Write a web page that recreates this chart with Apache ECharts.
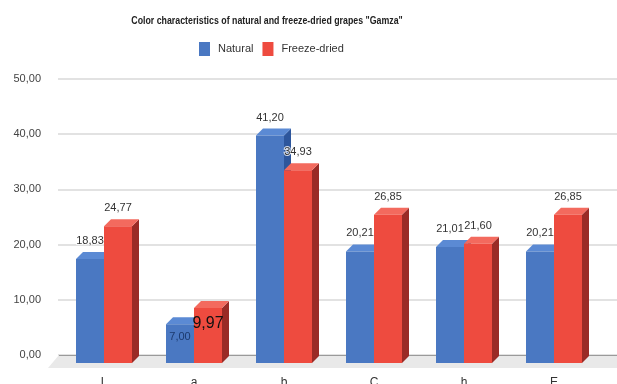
<!DOCTYPE html>
<html>
<head>
<meta charset="utf-8">
<script src="https://cdn.jsdelivr.net/npm/echarts@6/dist/echarts.min.js"></script>
<style>
  html, body { margin: 0; padding: 0; background: #fff; }
  #chart { width: 617px; height: 384px; }
</style>
</head>
<body>
<div id="chart"></div>
<script>
// Colour parameters of "Gamza" grapes
const categories = ['L', 'a', 'b', 'C', 'h', 'E'];
const naturalValues = [18.83, 7.00, 41.20, 20.21, 21.01, 20.21];
const freezeDriedValues = [24.77, 9.97, 34.93, 26.85, 21.60, 26.85];
const yTicks = [0, 10, 20, 30, 40, 50];
const chartTitle = 'Color characteristics of natural and freeze-dried grapes "Gamza"';

const FONT = "'Liberation Sans', Arial, sans-serif";

// 3D look: depth of each bar (right / up)
const DX = 7, DY = 7, BAR_W = 28;

const palettes = {
  natural: { front: '#4a78c2', top: '#5b8ad4', side: '#2d569c', insideText: '#1c3a6e', insideSize: 11, insideOffset: 13 },
  freeze:  { front: '#ee4b3f', top: '#f36a5e', side: '#9a2b26', insideText: '#111111', insideSize: 16, insideOffset: 16 }
};

const fmt = v => v.toFixed(2).replace('.', ',');

function makeBarRenderer(side, pal) {
  return function (params, api) {
    const idx = api.value(0);
    const val = api.value(1);
    const top = api.coord([idx, val]);
    const base = api.coord([idx, 0]);
    const x0 = side === 'left' ? top[0] - BAR_W : top[0];
    const ty = top[1], by = base[1];
    const inside = val < 10;
    const children = [
      { type: 'polygon', shape: { points: [[x0 + BAR_W, ty], [x0 + BAR_W + DX, ty - DY], [x0 + BAR_W + DX, by - DY], [x0 + BAR_W, by]] },
        style: { fill: pal.side } },
      { type: 'polygon', shape: { points: [[x0, ty], [x0 + BAR_W, ty], [x0 + BAR_W + DX, ty - DY], [x0 + DX, ty - DY]] },
        style: { fill: pal.top } },
      { type: 'rect', shape: { x: x0, y: ty, width: BAR_W, height: by - ty },
        style: { fill: pal.front } },
      { type: 'text', z2: 10,
        style: inside ? {
          x: x0 + BAR_W / 2, y: ty + pal.insideOffset, text: fmt(val), align: 'center', verticalAlign: 'middle',
          fill: pal.insideText, font: pal.insideSize + 'px ' + FONT
        } : {
          x: x0 + BAR_W / 2, y: ty - 18, text: fmt(val), align: 'center', verticalAlign: 'middle',
          fill: '#333', font: '11px ' + FONT, stroke: 'rgba(255,255,255,0.8)', lineWidth: 2
        } }
    ];
    return { type: 'group', children };
  };
}

// floor plane under the bars and the zero line of the back wall
function renderFloor(params, api) {
  const cs = params.coordSys;
  const zero = api.coord([0, 0]);
  const front = zero[1] + 5;
  const back = zero[1] - 8;
  const left = cs.x - 11, right = cs.x + cs.width + 18;
  return {
    type: 'group',
    children: [
      { type: 'polygon', shape: { points: [[left + 11, back], [right + 11, back], [right, front], [left, front]] },
        style: { fill: '#e9e9e9' } },
      { type: 'line', shape: { x1: left + 11, y1: back + 0.5, x2: right + 11, y2: back + 0.5 },
        style: { stroke: '#9a9a9a', lineWidth: 1.2 } }
    ]
  };
}

const chart = echarts.init(document.getElementById('chart'), null, { renderer: 'canvas' });

chart.setOption({
  animation: false,
  backgroundColor: '#fff',
  graphic: [
    { type: 'text', x: 267, y: 21, scaleX: 0.8, z: 10,
      style: { text: chartTitle, align: 'center', verticalAlign: 'middle',
        font: 'bold 11px ' + FONT, fill: '#222' } }
  ],
  legend: {
    left: 199, top: 42, padding: 0,
    itemWidth: 11, itemHeight: 14, itemGap: 9, icon: 'rect',
    textStyle: { fontFamily: FONT, fontSize: 11, color: '#333', padding: [0, 0, 0, 3] },
    data: [
      { name: 'Natural', itemStyle: { color: palettes.natural.front } },
      { name: 'Freeze-dried', itemStyle: { color: palettes.freeze.front } }
    ]
  },
  grid: [
    // front plane of the bars
    { left: 59, right: 18, top: 87, bottom: 21, outerBoundsMode: 'none', containLabel: false },
    // back wall carrying the gridlines
    { left: 58, right: 0, top: 79, bottom: 29, outerBoundsMode: 'none', containLabel: false }
  ],
  xAxis: [
    { type: 'category', gridIndex: 0, data: categories,
      axisLine: { show: false }, axisTick: { show: false },
      axisLabel: { margin: 14, fontFamily: FONT, fontSize: 12, color: '#333' } },
    { type: 'category', gridIndex: 1, data: categories, show: false }
  ],
  yAxis: [
    { type: 'value', gridIndex: 0, min: 0, max: 50, interval: 10, show: false },
    { type: 'value', gridIndex: 1, min: yTicks[0], max: yTicks[yTicks.length - 1], interval: 10,
      axisLine: { show: false }, axisTick: { show: false },
      axisLabel: { margin: 17, fontFamily: FONT, fontSize: 11, color: '#444',
        formatter: v => fmt(v) },
      splitLine: { lineStyle: { color: '#d9d9d9', width: 1.5 } } }
  ],
  series: [
    { type: 'custom', name: 'floor', xAxisIndex: 0, yAxisIndex: 0, silent: true, z: 1,
      renderItem: renderFloor, data: [[0, 0]] },
    { type: 'custom', name: 'Natural', xAxisIndex: 0, yAxisIndex: 0, z: 3,
      itemStyle: { color: palettes.natural.front },
      encode: { x: 0, y: 1 },
      renderItem: makeBarRenderer('left', palettes.natural),
      data: naturalValues.map((v, i) => [i, v]) },
    { type: 'custom', name: 'Freeze-dried', xAxisIndex: 0, yAxisIndex: 0, z: 4,
      itemStyle: { color: palettes.freeze.front },
      encode: { x: 0, y: 1 },
      renderItem: makeBarRenderer('right', palettes.freeze),
      data: freezeDriedValues.map((v, i) => [i, v]) }
  ]
});
</script>
</body>
</html>
